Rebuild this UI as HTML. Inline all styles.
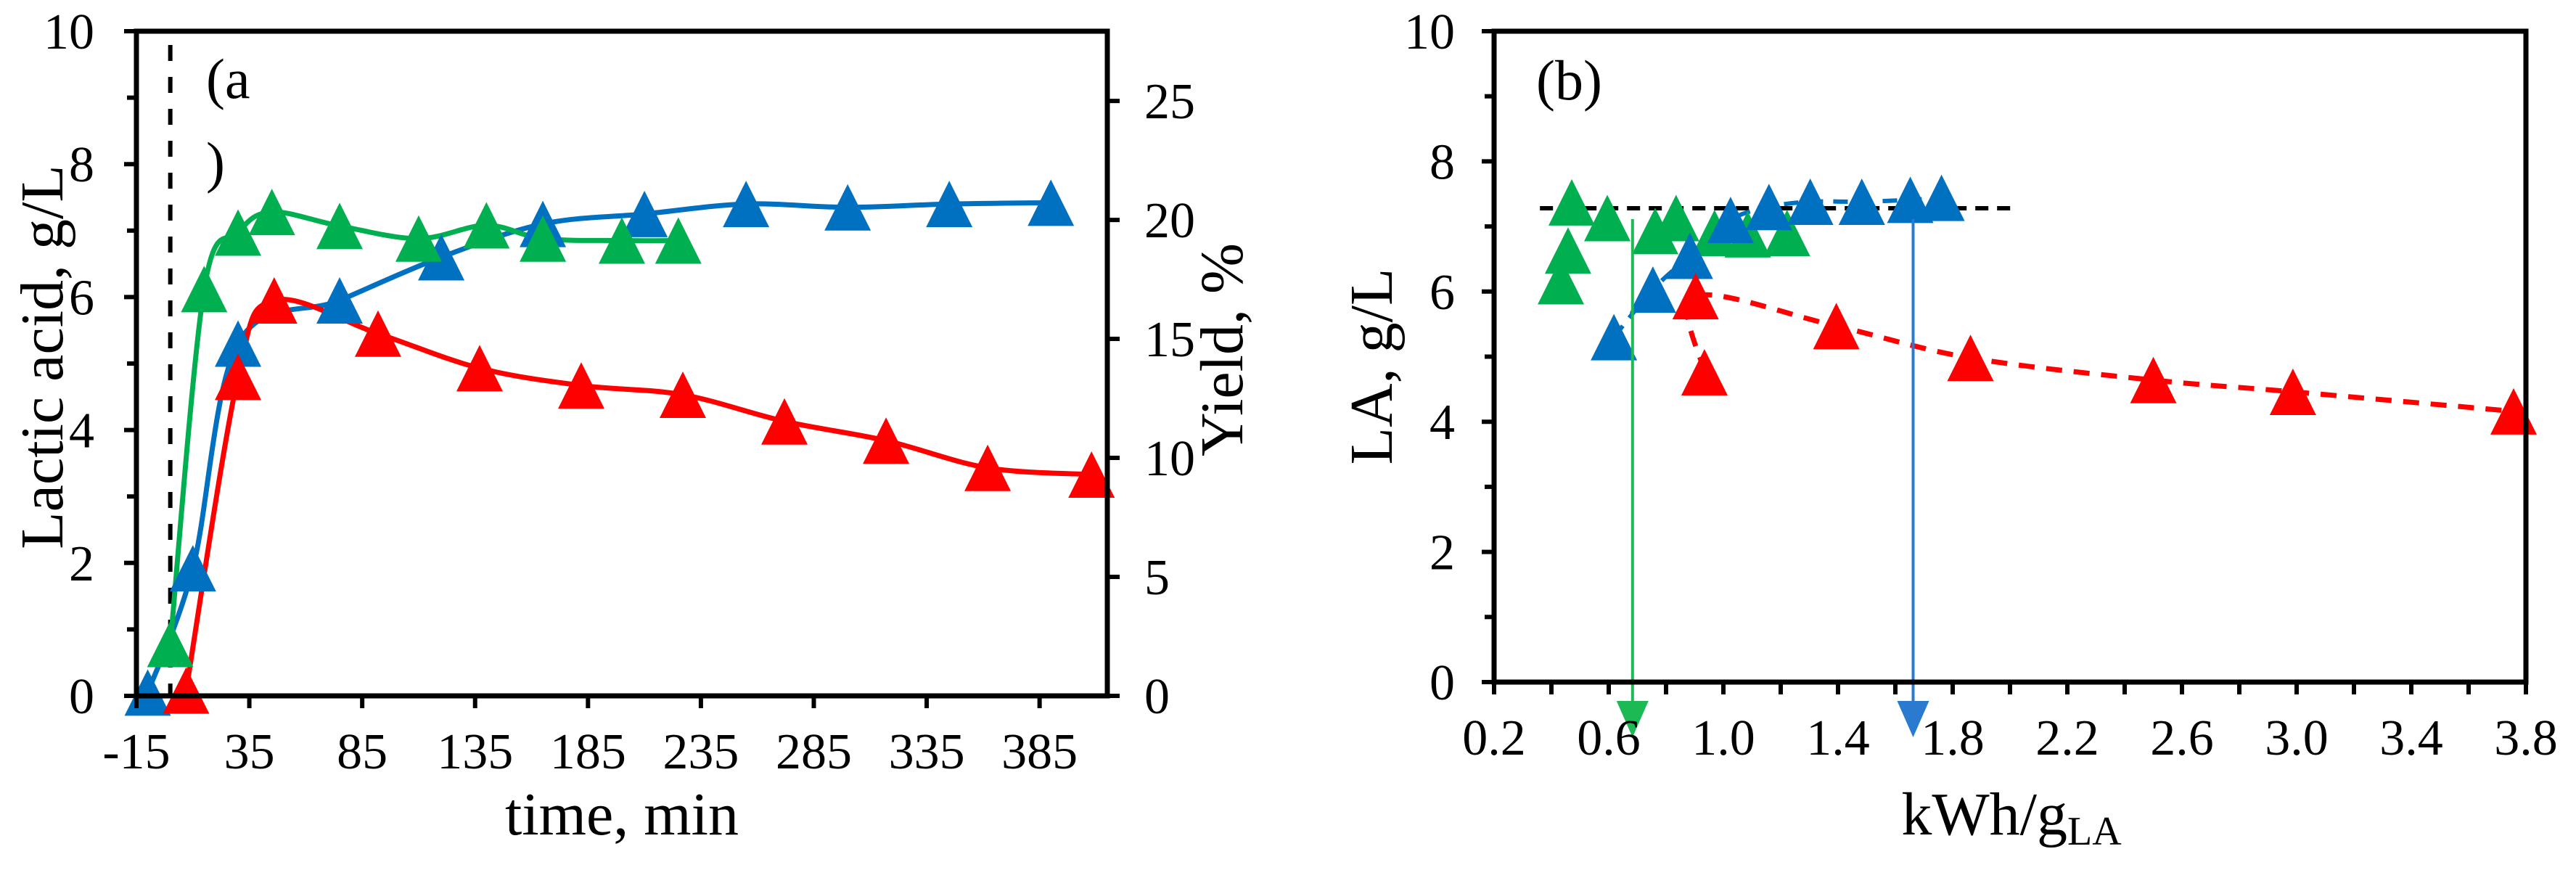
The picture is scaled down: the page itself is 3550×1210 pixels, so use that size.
<!DOCTYPE html>
<html><head><meta charset="utf-8">
<style>
html,body{margin:0;padding:0;background:#fff;}
svg{display:block;font-family:"Liberation Serif",serif;}
</style></head>
<body>
<svg id="fig" width="3550" height="1210" viewBox="0 0 3550 1210" xmlns="http://www.w3.org/2000/svg">
<g id="chartA"></g>
<g id="chartB"></g>
</svg>
<script>
// ---- Chart (a) data ----
const aBlueT = [-10, 10, 30, 75, 120, 165, 210, 255, 300, 345, 390];
const aBlueY = [0.05, 1.92, 5.3, 5.95, 6.6, 7.1, 7.25, 7.4, 7.35, 7.4, 7.42];
const aGreenT = [0, 15, 30, 45, 75, 110, 140, 165, 200, 225];
const aGreenY = [0.78, 6.12, 6.97, 7.28, 7.07, 6.88, 7.08, 6.88, 6.85, 6.85];
const aRedT = [7, 30, 46, 92, 137, 182, 227, 272, 317, 362, 408];
const aRedY = [0.08, 4.8, 5.95, 5.45, 4.93, 4.67, 4.53, 4.13, 3.84, 3.43, 3.33];
const aXTicks = [-15, 35, 85, 135, 185, 235, 285, 335, 385];
const aYTicks = [0, 2, 4, 6, 8, 10];
const aY2Ticks = [0, 5, 10, 15, 20, 25];
// ---- Chart (b) data ----
const bBlueX = [0.618, 0.754, 0.883, 1.025, 1.159, 1.303, 1.483, 1.652, 1.761];
const bBlueY = [5.3, 6.03, 6.55, 7.1, 7.3, 7.38, 7.38, 7.41, 7.44];
const bGreenX = [0.433, 0.458, 0.471, 0.595, 0.762, 0.835, 0.969, 1.085, 1.222];
const bGreenY = [6.16, 6.63, 7.37, 7.13, 6.93, 7.13, 6.9, 6.88, 6.9];
const bRedX = [0.934, 0.903, 1.394, 1.862, 2.5, 2.987, 3.757];
const bRedY = [4.76, 5.93, 5.47, 4.98, 4.64, 4.46, 4.16];
const bXTicks = [0.2, 0.6, 1.0, 1.4, 1.8, 2.2, 2.6, 3.0, 3.4, 3.8];
const bYTicks = [0, 2, 4, 6, 8, 10];
const bRefLevel = 7.28;
const bRefRange = [0.36, 2.03];
const bGreenArrowX = 0.683;
const bBlueArrowX = 1.662;

const NS = "http://www.w3.org/2000/svg";
function mk(parent, tag, attrs, text){
  const e = document.createElementNS(NS, tag);
  for (const k in attrs) e.setAttribute(k, attrs[k]);
  if (text !== undefined) e.textContent = text;
  parent.appendChild(e);
  return e;
}
function smoothPath(pts){
  let d = "M" + pts[0][0] + "," + pts[0][1];
  for (let i = 0; i < pts.length - 1; i++){
    const p0 = pts[i-1] || pts[i], p1 = pts[i], p2 = pts[i+1], p3 = pts[i+2] || p2;
    const c1x = p1[0] + (p2[0]-p0[0])/6, c1y = p1[1] + (p2[1]-p0[1])/6;
    const c2x = p2[0] - (p3[0]-p1[0])/6, c2y = p2[1] - (p3[1]-p1[1])/6;
    d += " C" + c1x + "," + c1y + " " + c2x + "," + c2y + " " + p2[0] + "," + p2[1];
  }
  return d;
}
function tri(parent, cx, cy, color, name){
  const h = 64, w = 64;
  const t = mk(parent, "polygon", {points: `${cx},${cy-h/2} ${cx+w/2},${cy+h/2} ${cx-w/2},${cy+h/2}`, fill: color});
  
  
}
const BLUE = "#0070c0", GREEN = "#00b050", RED = "#ff0000";

// ================= Chart A =================
(function(){
  const g = document.getElementById("chartA");
  const L = 188, R = 1526, T = 43, B = 959;
  const xmin = -15, xmax = 415;
  const xs = v => L + (v - xmin) / (xmax - xmin) * (R - L);
  const ys = v => B - v / 10 * (B - T);
  const y2s = v => B - v / 27.93 * (B - T);
  // dashed start line
  const dl = mk(g, "line", {x1: xs(0), y1: 62, x2: xs(0), y2: B, stroke: "#000", "stroke-width": 6, "stroke-dasharray": "22,22"});
  
  
  // series lines
  const series = [[aBlueT, aBlueY, BLUE, "blue"], [aGreenT, aGreenY, GREEN, "green"], [aRedT, aRedY, RED, "red"]];
  for (const [tx, vy, col, nm] of series){
    const pts = tx.map((t, i) => [xs(t), ys(vy[i])]);
    const p = mk(g, "path", {d: smoothPath(pts), fill: "none", stroke: col, "stroke-width": 7});
    
    
  }
  for (const [tx, vy, col, nm] of series){
    tx.forEach((t, i) => tri(g, xs(t), ys(vy[i]), col, nm + '-point-a'));
  }
  // axes box
  const box = mk(g, "path", {d: `M${L},${T} H${R} V${B} H${L} Z`, fill: "none", stroke: "#000", "stroke-width": 7});
  
  
  // left ticks
  for (let v = 0; v <= 10; v++){
    const len = v % 2 === 0 ? 17 : 13;
    mk(g, "line", {x1: L - len, y1: ys(v), x2: L, y2: ys(v), stroke: "#000", "stroke-width": 6});
  }
  aYTicks.forEach(v => {
    const t = mk(g, "text", {x: 130, y: ys(v) + 24, "font-size": 70, "text-anchor": "end"}, String(v));
    
    
  });
  aY2Ticks.forEach(v => {
    mk(g, "line", {x1: R, y1: y2s(v), x2: R + 17, y2: y2s(v), stroke: "#000", "stroke-width": 6});
    const t = mk(g, "text", {x: 1577, y: y2s(v) + 24, "font-size": 70, "text-anchor": "start"}, String(v));
    
    
  });
  aXTicks.forEach(v => {
    mk(g, "line", {x1: xs(v), y1: B, x2: xs(v), y2: B + 17, stroke: "#000", "stroke-width": 6});
    const t = mk(g, "text", {x: xs(v), y: B + 100, "font-size": 70, "text-anchor": "middle"}, String(v));
    
    
  });
  let t;
  t = mk(g, "text", {x: 0, y: 0, "font-size": 84, "text-anchor": "middle", transform: "translate(86,492) rotate(-90)"}, "Lactic acid, g/L");
  
  
  t = mk(g, "text", {x: 0, y: 0, "font-size": 84, "text-anchor": "middle", transform: "translate(1712,482) rotate(-90)"}, "Yield, %");
  
  
  t = mk(g, "text", {x: 857, y: 1150, "font-size": 84, "text-anchor": "middle"}, "time, min");
  
  
  t = mk(g, "text", {x: 284, y: 135, "font-size": 78}, "(a");
  
  
  t = mk(g, "text", {x: 284, y: 250, "font-size": 78}, ")");
  
  
})();

// ================= Chart B =================
(function(){
  const g = document.getElementById("chartB");
  const L = 2059, R = 3481, T = 43, B = 940;
  const xmin = 0.2, xmax = 3.8;
  const xs = v => L + (v - xmin) / (xmax - xmin) * (R - L);
  const ys = v => B - v / 10 * (B - T);
  // reference dashed line
  const ref = mk(g, "line", {x1: xs(bRefRange[0]), y1: ys(bRefLevel), x2: xs(bRefRange[1]), y2: ys(bRefLevel), stroke: "#000", "stroke-width": 6, "stroke-dasharray": "18,12"});
  
  
  // blue dashed through blue points
  let p = mk(g, "path", {d: smoothPath(bBlueX.map((x, i) => [xs(x), ys(bBlueY[i])])), fill: "none", stroke: BLUE, "stroke-width": 6, "stroke-dasharray": "20,14"});
  
  
  p = mk(g, "path", {d: smoothPath(bRedX.map((x, i) => [xs(x), ys(bRedY[i])])), fill: "none", stroke: RED, "stroke-width": 7, "stroke-dasharray": "22,16"});
  
  
  bGreenX.forEach((x, i) => tri(g, xs(x), ys(bGreenY[i]), GREEN, 'green-point-b'));
  bBlueX.forEach((x, i) => tri(g, xs(x), ys(bBlueY[i]), BLUE, 'blue-point-b'));
  bRedX.forEach((x, i) => tri(g, xs(x), ys(bRedY[i]), RED, 'red-point-b'));
  // arrows
  for (const [ax, col, nm] of [[bGreenArrowX, "#1db954", "green-arrow"], [bBlueArrowX, "#2a7ad0", "blue-arrow"]]){
    const x = xs(ax);
    const ln = mk(g, "line", {x1: x, y1: 302, x2: x, y2: 975, stroke: col, "stroke-width": 4});
    
    
    const hd = mk(g, "polygon", {points: `${x-22},966 ${x+22},966 ${x},1016`, fill: col});
    
    
  }
  const box = mk(g, "path", {d: `M${L},${T} H${R} V${B} H${L} Z`, fill: "none", stroke: "#000", "stroke-width": 7});
  
  
  for (let v = 0; v <= 10; v++){
    const len = v % 2 === 0 ? 17 : 13;
    mk(g, "line", {x1: L - len, y1: ys(v), x2: L, y2: ys(v), stroke: "#000", "stroke-width": 6});
  }
  for (let k = 0; k <= 18; k++){
    const v = 0.2 + k * 0.2;
    mk(g, "line", {x1: xs(v), y1: B, x2: xs(v), y2: B + 17, stroke: "#000", "stroke-width": 6});
  }
  bYTicks.forEach(v => {
    const t = mk(g, "text", {x: 2005, y: ys(v) + 24, "font-size": 70, "text-anchor": "end"}, String(v));
    
    
  });
  bXTicks.forEach(v => {
    const t = mk(g, "text", {x: xs(v), y: B + 100, "font-size": 70, "text-anchor": "middle"}, v.toFixed(1));
    
    
  });
  let t = mk(g, "text", {x: 0, y: 0, "font-size": 84, "text-anchor": "middle", transform: "translate(1918,505) rotate(-90)"}, "LA, g/L");
  
  
  t = mk(g, "text", {x: 2772, y: 1150, "font-size": 84, "text-anchor": "middle"});
  
  
  mk(t, "tspan", {}, "kWh/g");
  mk(t, "tspan", {"font-size": 56, dy: 14}, "LA");
  t = mk(g, "text", {x: 2117, y: 137, "font-size": 78}, "(b)");
  
  
})();
</script>
</body></html>
